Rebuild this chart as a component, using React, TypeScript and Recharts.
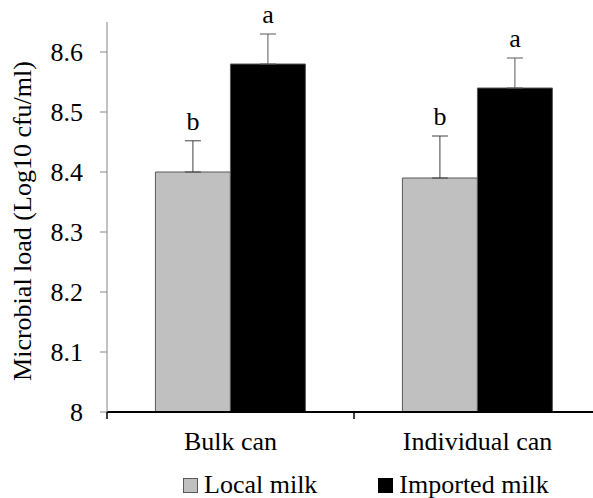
import React from "react";
import { BarChart, Bar, XAxis, YAxis, ErrorBar, LabelList, Legend } from "recharts";

const categories = ["Bulk can", "Individual can"];
const localMilk = [8.4, 8.39];
const importedMilk = [8.58, 8.54];
const localErr = [0.052, 0.07];
const importedErr = [0.05, 0.05];
const localLetters = ["b", "b"];
const importedLetters = ["a", "a"];
const yTicks = [8, 8.1, 8.2, 8.3, 8.4, 8.5, 8.6];
const yTickLabels = ["8", "8.1", "8.2", "8.3", "8.4", "8.5", "8.6"];
const seriesNames = ["Local milk", "Imported milk"];
const yLabel = "Microbial load (Log10 cfu/ml)";
const yMin = 8;
const yMax = 8.65;

const FONT = "Liberation Serif";

const data = categories.map((c, i) => ({
  cat: c,
  local: localMilk[i],
  imported: importedMilk[i],
  localErr: [0, localErr[i]],
  importedErr: [0, importedErr[i]],
  localLetter: localLetters[i],
  importedLetter: importedLetters[i],
}));

const makeLetter = (values: number[], errs: number[]) => (props: any) => {
  const { x, y, width, height, index, value } = props;
  const v = values[index];
  const ppu = height / (v - yMin);
  const errTop = y - errs[index] * ppu;
  return (
    <text
      x={x + width / 2}
      y={errTop - 11}
      textAnchor="middle"
      style={{ fontFamily: FONT, fontSize: 26 }}
      fill="#000"
    >
      {value}
    </text>
  );
};

const YLabel = (props: any) => {
  const vb = props.viewBox || {};
  const cx = 22;
  const cy = vb.y + vb.height / 2 + 4;
  return (
    <text
      x={cx}
      y={cy}
      transform={`rotate(-90 ${cx} ${cy})`}
      textAnchor="middle"
      dominantBaseline="central"
      style={{ fontFamily: FONT, fontSize: 26 }}
      fill="#000"
    >
      {yLabel}
    </text>
  );
};

const YTick = (props: any) => {
  const { x, y, payload } = props;
  const i = yTicks.indexOf(payload.value);
  return (
    <text
      x={x}
      y={y + 9}
      textAnchor="end"
      style={{ fontFamily: FONT, fontSize: 26 }}
      fill="#000"
    >
      {i >= 0 ? yTickLabels[i] : String(payload.value)}
    </text>
  );
};

const XTick = (props: any) => {
  const { x, y, payload, index } = props;
  const off = payload && typeof payload.offset === "number" ? payload.offset : 0;
  return (
    <g>
      {off > 0 && (
        <line x1={x - off} x2={x - off} y1={y} y2={y + 7} stroke="#000" strokeWidth={1.5} />
      )}
      {off > 0 && index === categories.length - 1 && (
        <line x1={x + off} x2={x + off} y1={y} y2={y + 7} stroke="#000" strokeWidth={1.5} />
      )}
      <text
        x={x}
        y={y + 38}
        textAnchor="middle"
        style={{ fontFamily: FONT, fontSize: 26 }}
        fill="#000"
      >
        {payload.value}
      </text>
    </g>
  );
};

const LegendContent = () => {
  const swatch = (fill: string, stroke: string) => (
    <span
      style={{
        display: "inline-block",
        width: 13,
        height: 13,
        background: fill,
        border: `1px solid ${stroke}`,
        marginRight: 6,
      }}
    />
  );
  return (
    <div
      style={{
        display: "flex",
        alignItems: "center",
        paddingLeft: 183,
        fontFamily: FONT,
        fontSize: 26,
        color: "#000",
        height: 26,
        lineHeight: "26px",
      }}
    >
      <span style={{ display: "flex", alignItems: "center", marginRight: 61 }}>
        {swatch("#C0C0C0", "#595959")}
        {seriesNames[0]}
      </span>
      <span style={{ display: "flex", alignItems: "center" }}>
        {swatch("#000000", "#000000")}
        {seriesNames[1]}
      </span>
    </div>
  );
};

export default function App() {
  return (
    <div
      style={{
        position: "absolute",
        left: 0,
        top: 0,
        width: 593,
        height: 498,
        overflow: "hidden",
        background: "#fff",
      }}
    >
      <BarChart
        width={620}
        height={498}
        data={data}
        margin={{ top: 22, right: 19, left: 0, bottom: 0 }}
        barCategoryGap="19.6%"
        barGap={0}
      >
        <XAxis
          dataKey="cat"
          height={60}
          tickLine={false}
          tickSize={0}
          tickMargin={0}
          axisLine={{ stroke: "#000", strokeWidth: 1.8 }}
          tick={<XTick />}
        />
        <YAxis
          width={107}
          domain={[yMin, yMax]}
          ticks={yTicks}
          allowDataOverflow
          interval={0}
          axisLine={{ stroke: "#868686", strokeWidth: 1 }}
          tickLine={{ stroke: "#868686", strokeWidth: 1 }}
          tickSize={7}
          tickMargin={17}
          tick={<YTick />}
          label={{ content: YLabel }}
        />
        <Legend verticalAlign="bottom" height={26} content={LegendContent} />
        <Bar
          dataKey="local"
          name={seriesNames[0]}
          fill="#C0C0C0"
          stroke="#595959"
          strokeWidth={1}
          isAnimationActive={false}
        >
          <ErrorBar dataKey="localErr" width={8} stroke="#404040" strokeWidth={1} />
          <LabelList dataKey="localLetter" content={makeLetter(localMilk, localErr)} />
        </Bar>
        <Bar
          dataKey="imported"
          name={seriesNames[1]}
          fill="#000000"
          stroke="#595959"
          strokeWidth={1}
          isAnimationActive={false}
        >
          <ErrorBar dataKey="importedErr" width={8} stroke="#595959" strokeWidth={1} />
          <LabelList dataKey="importedLetter" content={makeLetter(importedMilk, importedErr)} />
        </Bar>
      </BarChart>
    </div>
  );
}
